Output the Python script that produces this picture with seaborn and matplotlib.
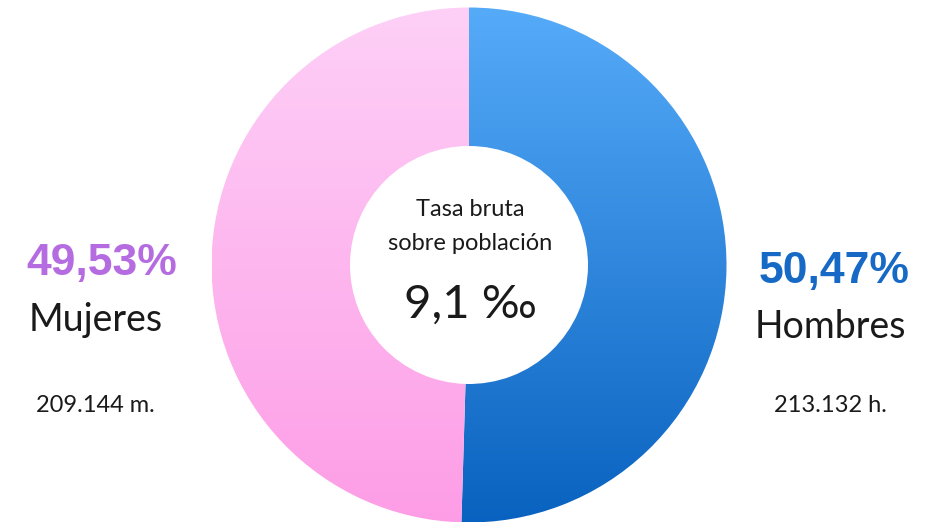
import numpy as np
import matplotlib
matplotlib.use("Agg")
import matplotlib.pyplot as plt
import seaborn as sns

# data
sexos = ["Hombres", "Mujeres"]
porcentajes = [50.47, 49.53]
poblacion = ["213.132 h.", "209.144 m."]
tasa_bruta = "9,1 ‰"

sns.set_theme(style="white")
plt.rcParams["font.family"] = ["Lato", "DejaVu Sans"]

grad_azul = sns.blend_palette(["#0962bf", "#56abf9"], as_cmap=True)
grad_rosa = sns.blend_palette(["#fe9de6", "#fdd0f7"], as_cmap=True)
pct_colors = ["#1769c6", "#b56ce0"]

fig = plt.figure(figsize=(9.34, 5.25), dpi=100)
ax = fig.add_axes([0, 0, 1, 1])

cx, cy, r, r_in = 469, 260, 257.5, 119
wedges, _ = ax.pie(porcentajes, startangle=90, counterclock=False,
                   radius=r, center=(cx, cy),
                   wedgeprops=dict(width=r - r_in, linewidth=0))

grad = np.linspace(0, 1, 256).reshape(-1, 1)
for w, cmap in zip(wedges, [grad_azul, grad_rosa]):
    w.set_facecolor("none")
    im = ax.imshow(grad, cmap=cmap, origin="lower", aspect="auto",
                   extent=[cx - r, cx + r, cy - r, cy + r], zorder=1)
    im.set_clip_path(w)

ax.set_xlim(0, 934)
ax.set_ylim(0, 525)
ax.set_aspect("equal")
ax.axis("off")

def py(y):
    return 525 - y

txt = dict(ha="center", va="center", fontweight="normal", color="#1a1a1a")

# left: mujeres
ax.text(102, py(263), f"{porcentajes[1]:.2f}%".replace(".", ","), ha="center", va="center",
        fontsize=32, fontweight="bold", color=pct_colors[1], family=["Liberation Sans"])
ax.text(96, py(320), sexos[1], fontsize=27, **txt)
ax.text(95, py(405), poblacion[1], fontsize=17, **txt)

# right: hombres
ax.text(834, py(272), f"{porcentajes[0]:.2f}%".replace(".", ","), ha="center", va="center",
        fontsize=32, fontweight="bold", color=pct_colors[0], family=["Liberation Sans"])
ax.text(830, py(327), sexos[0], fontsize=27, **txt)
ax.text(830, py(406), poblacion[0], fontsize=17, **txt)

# center
ax.text(470, py(210), "Tasa bruta", fontsize=17, **txt)
ax.text(470, py(243), "sobre población", fontsize=17, **txt)
ax.text(470, py(305), tasa_bruta, fontsize=34, **txt)

fig.savefig("out.png", dpi=100, facecolor="white")
